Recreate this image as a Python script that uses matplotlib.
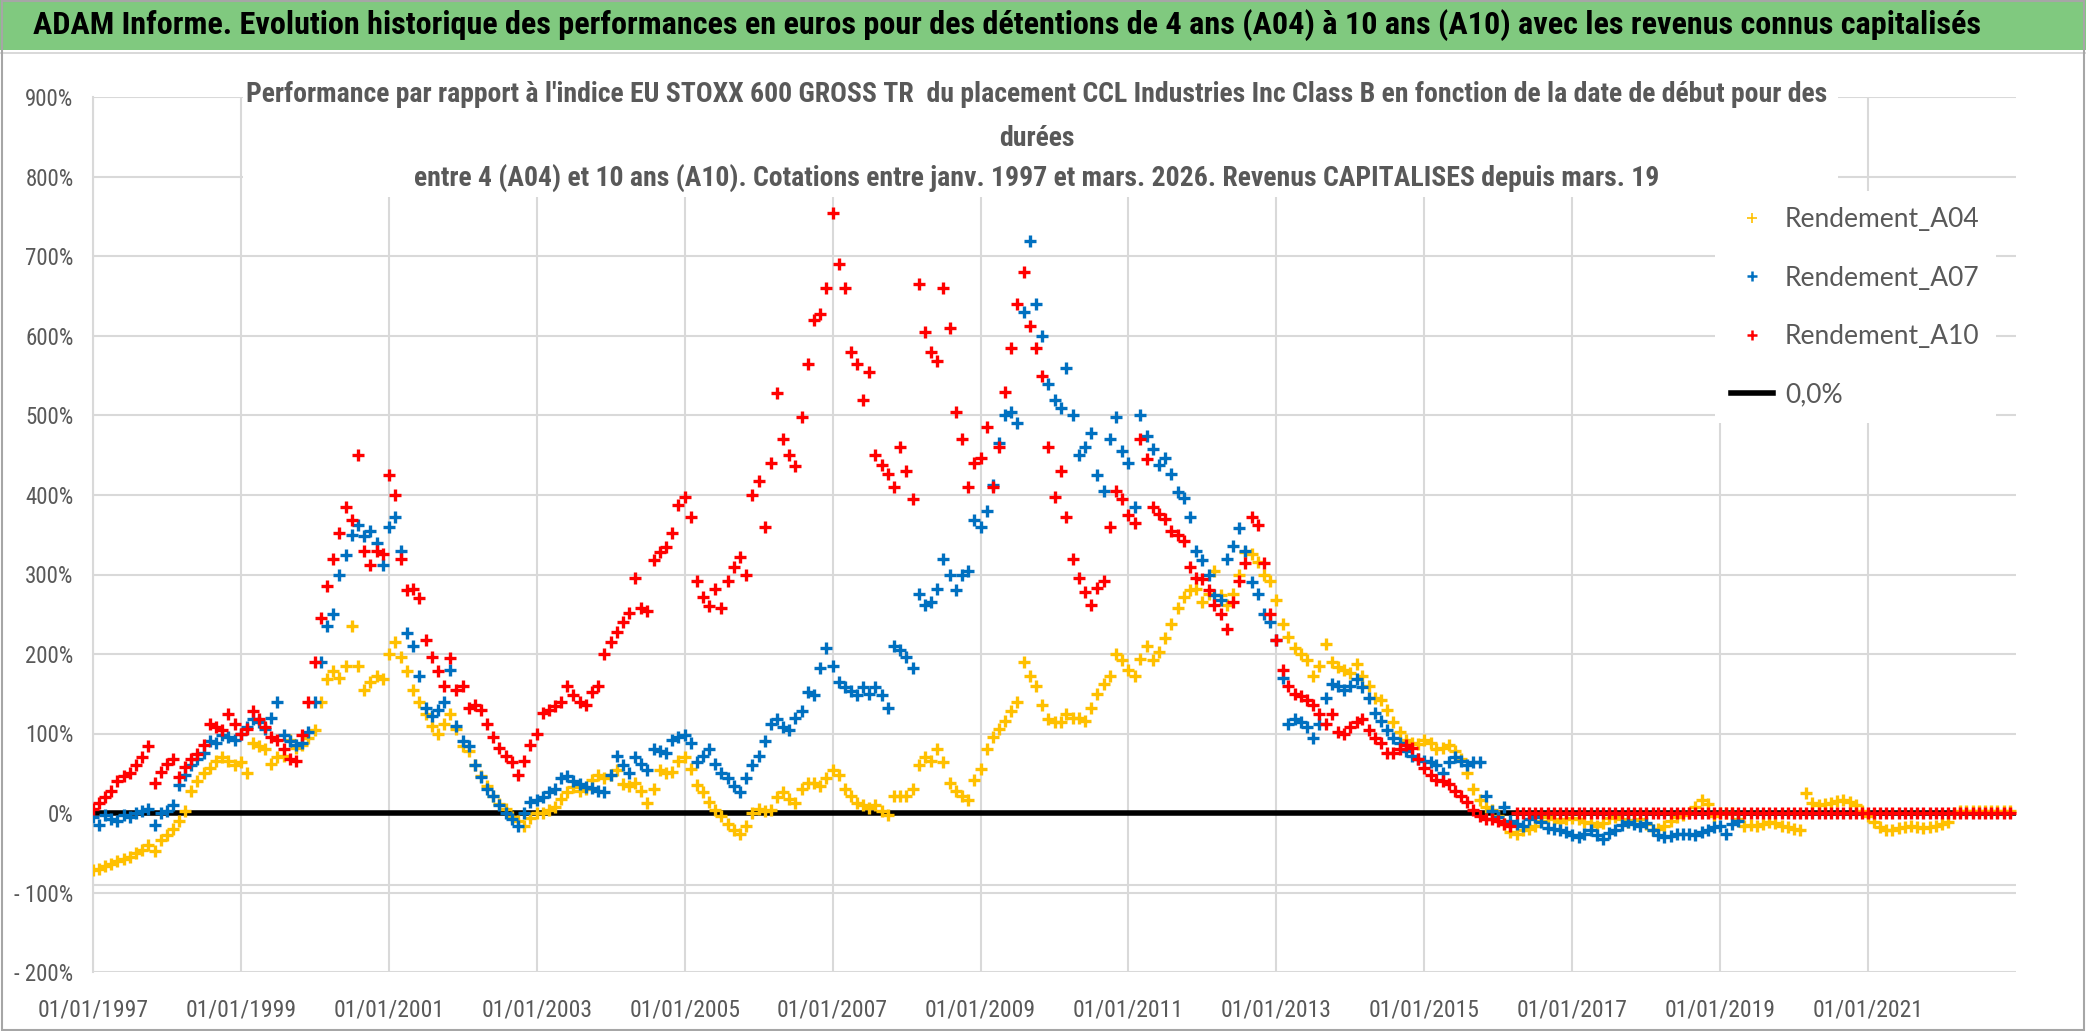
import numpy as np
import pandas as pd
import matplotlib
matplotlib.use("Agg")
import matplotlib.pyplot as plt
import matplotlib.dates as mdates
from matplotlib import font_manager as fm
from matplotlib.lines import Line2D
from matplotlib.ticker import FuncFormatter

# monthly values (%)
a04 = [
    -72, -70, -67, -64, -61, -58, -55, -50, -46, -40, -48, -34,
    -28, -20, -10, 2, 28, 40, 50, 56, 65, 70, 66, 60,
    64, 50, 88, 84, 80, 62, 70, 72, 92, 82, 86, 94,
    105, 140, 168, 178, 170, 185, 235, 185, 155, 165, 172, 168,
    200, 215, 196, 178, 155, 140, 125, 110, 100, 112, 124, 106,
    84, 78, 60, 46, 34, 22, 11, 5, -5, -10, -16, -6,
    0, 0, 4, 8, 18, 26, 33, 28, 30, 42, 48, 44,
    48, 54, 36, 34, 38, 28, 12, 30, 54, 50, 52, 66,
    70, 55, 35, 26, 14, 4, -4, -14, -22, -26, -16, 0,
    5, 2, 4, 20, 27, 18, 12, 30, 38, 38, 34, 44,
    54, 48, 30, 22, 12, 10, 6, 10, 2, -3, 22, 22,
    22, 30, 60, 70, 66, 80, 64, 38, 28, 22, 16, 42,
    55, 80, 95, 106, 116, 128, 140, 190, 172, 160, 136, 118,
    114, 114, 124, 120, 120, 116, 132, 150, 162, 172, 200, 192,
    180, 172, 194, 210, 192, 202, 220, 238, 258, 272, 280, 282,
    265, 276, 305, 274, 262, 276, 300, 328, 326, 316, 300, 292,
    268, 238, 222, 208, 200, 192, 172, 185, 212, 190, 184, 180,
    176, 188, 172, 160, 145, 142, 130, 115, 102, 92, 88, 87,
    92, 88, 80, 82, 86, 78, 68, 50, 30, 16, 8, 4,
    -4, -14, -24, -26, -22, -20, -16, -10, -5, -8, -11, -8,
    -6, -8, -11, -13, -16, -12, -6, -5, -8, -11, -9, -8,
    -14, -22, -20, -16, -10, -5, -2, 0, 8, 16, 11, -4,
    0, 0, 0, -8, -16, -15, -16, -14, -11, -12, -16, -18,
    -20, -22, 25, 12, 10, 11, 12, 15, 16, 14, 10, 2,
    -4, -11, -18, -22, -21, -19, -18, -16, -17, -19, -18, -16,
    -14, -11, 0, 2, 3, 3, 3, 3, 3, 3, 3, 3,
]

a07 = [
    -5, -15, -3, -8, -10, -3, -5, 0, 3, 5, -15, 0,
    3, 10, 35, 48, 60, 68, 76, 90, 88, 98, 95, 92,
    100, 108, 118, 114, 106, 120, 140, 98, 90, 86, 88, 102,
    140, 190, 235, 250, 300, 325, 350, 362, 348, 355, 340, 312,
    360, 372, 330, 226, 210, 172, 132, 122, 130, 140, 180, 110,
    90, 84, 60, 45, 30, 22, 10, 0, -8, -16, 0, 14,
    16, 20, 26, 30, 44, 46, 40, 36, 33, 32, 28, 27,
    48, 72, 60, 50, 70, 62, 54, 80, 78, 76, 92, 96,
    98, 88, 64, 72, 80, 62, 50, 44, 34, 27, 44, 60,
    72, 90, 112, 118, 108, 104, 120, 128, 152, 148, 182, 208,
    185, 165, 158, 154, 148, 158, 150, 158, 148, 132, 210, 205,
    196, 182, 275, 262, 266, 282, 320, 300, 280, 300, 305, 368,
    360, 380, 412, 465, 500, 505, 490, 630, 720, 640, 600, 540,
    520, 510, 560, 500, 450, 460, 478, 425, 405, 470, 498, 455,
    440, 385, 500, 474, 458, 438, 446, 426, 404, 396, 372, 330,
    318, 300, 274, 268, 320, 336, 358, 330, 290, 276, 250, 240,
    218, 170, 112, 118, 114, 108, 94, 112, 145, 162, 160, 155,
    160, 168, 158, 145, 126, 116, 104, 94, 88, 78, 72, 68,
    65, 64, 60, 50, 64, 70, 65, 60, 64, 64, 22, 2,
    -5, 8, -10, -14, -16, -8, -5, -11, -19, -20, -22, -24,
    -28, -30, -26, -22, -28, -33, -25, -22, -15, -11, -14, -16,
    -12, -22, -28, -30, -29, -27, -26, -27, -28, -24, -22, -18,
    -16, -26, -14, -10,
]

a10 = [
    5, 12, 20, 28, 40, 46, 50, 60, 70, 84, 38, 52,
    62, 68, 45, 58, 68, 74, 86, 112, 108, 104, 124, 112,
    100, 106, 128, 118, 108, 96, 92, 80, 68, 66, 98, 140,
    190, 245, 285, 320, 352, 385, 368, 450, 330, 312, 330, 326,
    425, 400, 320, 280, 282, 270, 218, 196, 178, 160, 195, 155,
    160, 132, 136, 130, 112, 96, 82, 72, 64, 48, 66, 86,
    100, 126, 130, 134, 140, 160, 148, 140, 136, 152, 160, 200,
    215, 228, 240, 252, 295, 258, 254, 318, 328, 335, 352, 388,
    398, 372, 292, 272, 260, 282, 258, 292, 310, 322, 300, 400,
    418, 360, 440, 528, 470, 450, 436, 498, 565, 620, 628, 660,
    755, 690, 660, 580, 565, 520, 555, 450, 438, 426, 410, 460,
    430, 395, 665, 605, 580, 568, 660, 610, 505, 470, 410, 440,
    447, 485, 410, 460, 530, 585, 640, 680, 612, 585, 550, 460,
    398, 430, 372, 320, 296, 278, 262, 283, 292, 360, 405, 395,
    375, 365, 470, 445, 385, 376, 370, 355, 350, 342, 310, 296,
    294, 280, 262, 250, 232, 265, 292, 315, 372, 362, 315, 250,
    218, 180, 160, 150, 147, 142, 136, 125, 112, 124, 102, 100,
    108, 115, 118, 104, 94, 88, 76, 76, 80, 86, 82, 68,
    56, 48, 42, 40, 36, 28, 22, 14, 4, -4, -8, -8,
    -10, -14, -16, 0, 0, 0, 0, 0, 0, 0, 0, 0,
    0, 0, 0, 0, 0, 0, 0, 0, 0, 0, 0, 0,
    0, 0, 0, 0, 0, 0, 0, 0, 0, 0, 0, 0,
    0, 0, 0, 0, 0, 0, 0, 0, 0, 0, 0, 0,
    0, 0, 0, 0, 0, 0, 0, 0, 0, 0, 0, 0,
    0, 0, 0, 0, 0, 0, 0, 0, 0, 0, 0, 0,
    0, 0, 0, 0, 0, 0, 0, 0, 0, 0, 0, 0,
]

tick_years = [1997, 1999, 2001, 2003, 2005, 2007, 2009, 2011, 2013, 2015, 2017, 2019, 2021]
y_ticks = [-200, -100, 0, 100, 200, 300, 400, 500, 600, 700, 800, 900]

title = ("ADAM Informe. Evolution historique des performances en euros pour des "
         "détentions de 4 ans (A04) à 10 ans (A10) avec les revenus connus capitalisés")
sub_lines = [
    "Performance par rapport à l'indice EU STOXX 600 GROSS TR  du placement CCL "
    "Industries Inc Class B en fonction de la date de début pour des",
    "durées",
    "entre 4 (A04) et 10 ans (A10). Cotations entre janv. 1997 et mars. 2026. "
    "Revenus CAPITALISES depuis mars. 19",
]

grey = "#595959"
c04, c07, c10 = "#FFC000", "#0070C0", "#FF0000"


def narrow_font():
    # a narrow face if one is installed, else Lato
    fonts = [(f.name, f.stretch) for f in fm.fontManager.ttflist]
    for name in ["Liberation Sans Narrow", "Roboto Condensed", "Open Sans Condensed"]:
        if any(n == name for n, s in fonts):
            return {"family": [name, "DejaVu Sans"]}
    for name in ["Noto Sans", "Open Sans", "Roboto", "DejaVu Sans"]:
        if any(n == name and s in ("condensed", "semi-condensed") for n, s in fonts):
            return {"family": [name, "DejaVu Sans"], "stretch": "condensed"}
    return {"family": ["Lato", "DejaVu Sans"]}


nf = narrow_font()

d04 = pd.date_range("1997-01-01", periods=len(a04), freq="MS")
d07 = pd.date_range("1997-01-01", periods=len(a07), freq="MS")
d10 = pd.date_range("1997-01-01", periods=len(a10), freq="MS")

fig = plt.figure(figsize=(20.86, 10.31), dpi=100)
ax = fig.add_axes([93 / 2086, 1 - 972 / 1031, (2016 - 93) / 2086, (972 - 97.5) / 1031])

# header band
fig.patches.append(plt.Rectangle((0, 1 - 50 / 1031), 1, 50 / 1031, transform=fig.transFigure,
                                 facecolor="#80C97F", edgecolor="none", zorder=0))
fig.patches.append(plt.Rectangle((0, 1 - 54 / 1031), 1, 2 / 1031, transform=fig.transFigure,
                                 facecolor="#D9D9D9", edgecolor="none", zorder=0))
t_title = fig.text(33 / 2086, 1 - 25 / 1031, title, weight="bold", fontsize=18,
                   color="black", va="center", ha="left", **nf)

ax.axhline(0, color="black", lw=4, zorder=2)
ax.scatter(d04, a04, marker="+", s=75, linewidths=2.4, color=c04, zorder=3)
ax.scatter(d07, a07, marker="+", s=75, linewidths=2.4, color=c07, zorder=4)
ax.scatter(d10, a10, marker="+", s=75, linewidths=2.4, color=c10, zorder=5)

ax.set_xlim(pd.Timestamp("1997-01-01"), pd.Timestamp("2023-01-01"))
ax.set_ylim(-200, 900)
ax.set_yticks(y_ticks)
ax.yaxis.set_major_formatter(FuncFormatter(lambda v, p: f"{int(v)}%" if v >= 0 else f"- {int(-v)}%"))
ax.set_xticks([pd.Timestamp(f"{y}-01-01") for y in tick_years])
ax.xaxis.set_major_formatter(mdates.DateFormatter("%d/%m/%Y"))
ax.grid(True, color="#D9D9D9", lw=1.5)
ax.axhline(-91, color="#D9D9D9", lw=1.5, zorder=1)
ax.set_axisbelow(True)
for s in ["top", "right", "bottom"]:
    ax.spines[s].set_visible(False)
ax.spines["left"].set_color("#D9D9D9")
ax.spines["left"].set_linewidth(1.5)
ax.tick_params(length=0, colors=grey)
ax.tick_params(axis="y", pad=14)
ax.tick_params(axis="x", pad=19)
for lab in ax.get_yticklabels():
    lab.set_fontsize(16.5)
    lab.set_family(nf["family"])
    if "stretch" in nf:
        lab.set_stretch(nf["stretch"])
for lab in ax.get_xticklabels():
    lab.set_fontsize(17)
    lab.set_family(nf["family"])
    if "stretch" in nf:
        lab.set_stretch(nf["stretch"])

# subtitle: white box behind, three lines
fig.patches.append(plt.Rectangle((243 / 2086, 1 - 197 / 1031), (1838 - 243) / 2086, 117 / 1031,
                                 transform=fig.transFigure, facecolor="white",
                                 edgecolor="none", zorder=1))
sub_y = [94, 138, 178]
sub_texts = [fig.text(1037 / 2086, 1 - y / 1031, s, weight="bold", fontsize=16, color=grey,
                      ha="center", va="center", zorder=2, **nf)
             for s, y in zip(sub_lines, sub_y)]

handles = [
    Line2D([], [], marker="+", ls="none", color=c04, markersize=7, mew=1.2),
    Line2D([], [], marker="+", ls="none", color=c07, markersize=7, mew=1.8),
    Line2D([], [], marker="+", ls="none", color=c10, markersize=7, mew=1.8),
    Line2D([], [], color="black", lw=4),
]
leg = fig.legend(handles, ["Rendement_A04", "Rendement_A07", "Rendement_A10", "0,0%"],
                 loc="upper left", bbox_to_anchor=(1702 / 2086, 1 - 178 / 1031),
                 frameon=True, fancybox=False, edgecolor="none", facecolor="white", framealpha=1,
                 prop={"family": "Lato", "size": 19}, labelcolor=grey,
                 labelspacing=1.27, handlelength=1.6, handletextpad=0.45, borderpad=0.6)

# outer frame
fig.patches.append(plt.Rectangle((0.001, 0.001), 0.998, 0.998, transform=fig.transFigure,
                                 facecolor="none", edgecolor="#A6A6A6", lw=1.5))

# scale the long texts to the widths they take in the reference
fig.canvas.draw()
r = fig.canvas.get_renderer()
w = t_title.get_window_extent(r).width
t_title.set_fontsize(18 * 1951 / w)
w = sub_texts[0].get_window_extent(r).width
for t in sub_texts:
    t.set_fontsize(16 * 1581 / w)

fig.savefig("out.png", dpi=100)
